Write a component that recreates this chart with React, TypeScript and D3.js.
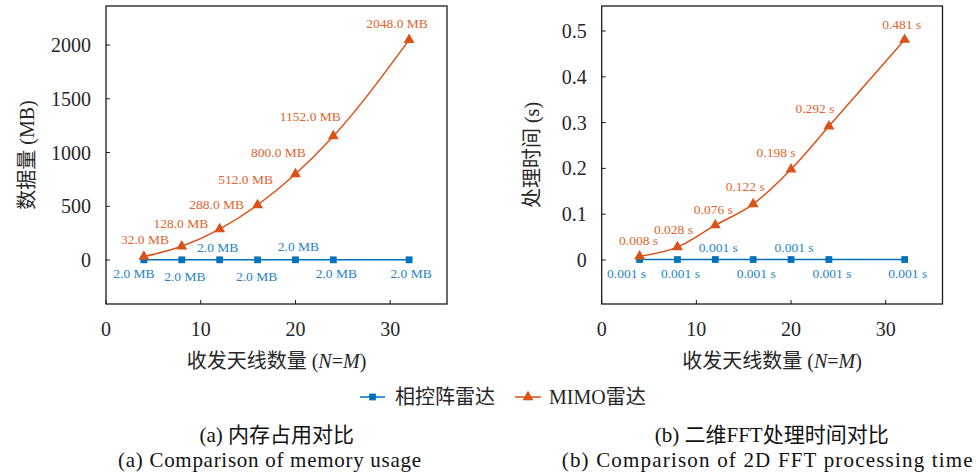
import React from 'react';
import * as d3 from 'd3';

// ---- data ----
const antennaCounts = [4, 8, 12, 16, 20, 24, 32];
const phasedMemoryMB = [2.0, 2.0, 2.0, 2.0, 2.0, 2.0, 2.0];
const mimoMemoryMB = [32.0, 128.0, 288.0, 512.0, 800.0, 1152.0, 2048.0];
const phasedTimeS = [0.001, 0.001, 0.001, 0.001, 0.001, 0.001, 0.001];
const mimoTimeS = [0.008, 0.028, 0.076, 0.122, 0.198, 0.292, 0.481];
const xTicks = [0, 10, 20, 30];
const memoryTicks = [0, 500, 1000, 1500, 2000];
const timeTicks = [0, 0.1, 0.2, 0.3, 0.4, 0.5];
const seriesNames = ['相控阵雷达', 'MIMO雷达'];

// ---- styling / layout ----
const BLUE = '#0072BD';
const ORANGE = '#D95319';
const BLUE_TEXT = '#2683C6';
const ORANGE_TEXT = '#E0642E';
const INK = '#262626';
const FONT = "'Liberation Serif', 'DejaVu Serif', serif, 'Noto Sans CJK SC'";

// label offsets (dx, dy) from each marker to the centre of its value label
const memMimoOffsets: [number, number][] = [[1, -17], [-1, -23], [-3, -25], [-12, -25], [-17, -22], [-23, -20], [-12, -16]];
const memPhasedOffsets: [number, number][] = [[-10, 14], [3, 17], [-2, -12], [-1, 17], [3, -13], [3, 14], [2, 14]];
const timeMimoOffsets: [number, number][] = [[-1, -16], [-4, -18], [-2, -16], [-8, -18], [-15, -17], [-14, -18], [-3, -15]];
const timePhasedOffsets: [number, number][] = [[-13, 14], [3, 14], [3, -12], [3, 14], [3, -12], [3, 14], [3, 14]];

type PanelProps = {
  x0: number;
  x1: number;
  y0: number;
  y1: number;
  yDomain: [number, number];
  yTicks: number[];
  phased: number[];
  mimo: number[];
  fmt: (v: number) => string;
  phasedOffsets: [number, number][];
  mimoOffsets: [number, number][];
  yTitle: string;
  yTitleX: number;
};

const triangle = d3.symbol().type(d3.symbolTriangle).size(52)() as string;
const square = d3.symbol().type(d3.symbolSquare).size(46)() as string;

function Panel(p: PanelProps) {
  const x = d3.scaleLinear().domain([0, 36]).range([p.x0, p.x1]);
  const y = d3.scaleLinear().domain(p.yDomain).range([p.y1, p.y0]);
  const line = d3
    .line<number>()
    .x((_, i) => x(antennaCounts[i]))
    .y((d) => y(d))
    .curve(d3.curveMonotoneX);
  const tickLen = 4;
  return (
    <g>
      {/* series */}
      <path d={line(p.phased) || ''} fill="none" stroke={BLUE} strokeWidth={1.5} />
      <path d={line(p.mimo) || ''} fill="none" stroke={ORANGE} strokeWidth={1.5} />
      {p.phased.map((v, i) => (
        <path key={'ps' + i} d={square} transform={`translate(${x(antennaCounts[i])},${y(v)})`} fill={BLUE} />
      ))}
      {p.mimo.map((v, i) => (
        <path key={'ms' + i} d={triangle} transform={`translate(${x(antennaCounts[i])},${y(v)})`} fill={ORANGE} />
      ))}
      {/* value labels */}
      {p.phased.map((v, i) => (
        <text
          key={'pl' + i}
          x={x(antennaCounts[i]) + p.phasedOffsets[i][0]}
          y={y(v) + p.phasedOffsets[i][1]}
          textAnchor="middle"
          dominantBaseline="central"
          fontSize={13.5}
          fill={BLUE_TEXT}
        >
          {p.fmt(v)}
        </text>
      ))}
      {p.mimo.map((v, i) => (
        <text
          key={'ml' + i}
          x={x(antennaCounts[i]) + p.mimoOffsets[i][0]}
          y={y(v) + p.mimoOffsets[i][1]}
          textAnchor="middle"
          dominantBaseline="central"
          fontSize={13.5}
          fill={ORANGE_TEXT}
        >
          {p.fmt(v)}
        </text>
      ))}
      {/* frame */}
      <rect x={p.x0} y={p.y0} width={p.x1 - p.x0} height={p.y1 - p.y0} fill="none" stroke="#1a1a1a" strokeWidth={1.3} />
      {/* y axis ticks */}
      {p.yTicks.map((t) => (
        <g key={'yt' + t}>
          <line x1={p.x0} x2={p.x0 + tickLen} y1={y(t)} y2={y(t)} stroke="#1a1a1a" strokeWidth={1} />
          <text x={p.x0 - 15} y={y(t)} textAnchor="end" dominantBaseline="central" fontSize={20} fill={INK}>
            {String(t)}
          </text>
        </g>
      ))}
      {/* x axis ticks */}
      {xTicks.map((t) => (
        <g key={'xt' + t}>
          <line x1={x(t)} x2={x(t)} y1={p.y1} y2={p.y1 - tickLen} stroke="#1a1a1a" strokeWidth={1} />
          <text x={x(t)} y={p.y1 + 25} textAnchor="middle" dominantBaseline="central" fontSize={20} fill={INK}>
            {String(t)}
          </text>
        </g>
      ))}
      {/* axis titles */}
      <text
        x={(p.x0 + p.x1) / 2}
        y={p.y1 + 57}
        textAnchor="middle"
        dominantBaseline="central"
        fontSize={20}
        fill={INK}
      >
        收发天线数量 (<tspan fontStyle="italic">N</tspan>=<tspan fontStyle="italic">M</tspan>)
      </text>
      <text
        transform={`translate(${p.yTitleX},${(p.y0 + p.y1) / 2}) rotate(-90)`}
        textAnchor="middle"
        dominantBaseline="central"
        fontSize={20}
        fill={INK}
      >
        {p.yTitle}
      </text>
    </g>
  );
}

export default function App() {
  const legendY = 397;
  return (
    <svg
      width={976}
      height={475}
      viewBox="0 0 976 475"
      fontFamily={FONT}
      style={{ position: 'absolute', left: 0, top: 0, background: '#fff' }}
    >
      <rect width={976} height={475} fill="#fff" />
      <Panel
        x0={106}
        x1={447}
        y0={6}
        y1={304}
        yDomain={[-409, 2363]}
        yTicks={memoryTicks}
        phased={phasedMemoryMB}
        mimo={mimoMemoryMB}
        fmt={(v) => `${v.toFixed(1)} MB`}
        phasedOffsets={memPhasedOffsets}
        mimoOffsets={memMimoOffsets}
        yTitle="数据量 (MB)"
        yTitleX={27}
      />
      <Panel
        x0={601.7}
        x1={942.5}
        y0={6}
        y1={304}
        yDomain={[-0.0961, 0.5546]}
        yTicks={timeTicks}
        phased={phasedTimeS}
        mimo={mimoTimeS}
        fmt={(v) => `${v.toFixed(3)} s`}
        phasedOffsets={timePhasedOffsets}
        mimoOffsets={timeMimoOffsets}
        yTitle="处理时间 (s)"
        yTitleX={532}
      />
      {/* legend */}
      <g>
        <line x1={360} x2={385} y1={legendY} y2={legendY} stroke={BLUE} strokeWidth={1.5} />
        <path d={square} transform={`translate(372.5,${legendY})`} fill={BLUE} />
        <text x={395} y={legendY} dominantBaseline="central" fontSize={20} fill={INK}>
          {seriesNames[0]}
        </text>
        <line x1={515} x2={541} y1={legendY} y2={legendY} stroke={ORANGE} strokeWidth={1.5} />
        <path d={triangle} transform={`translate(528,${legendY})`} fill={ORANGE} />
        <text x={549} y={legendY} dominantBaseline="central" fontSize={20} fill={INK}>
          {seriesNames[1]}
        </text>
      </g>
      {/* captions */}
      <text x={276.7} y={435} textAnchor="middle" dominantBaseline="central" fontSize={21} fill="#111">
        (a) 内存占用对比
      </text>
      <text x={118} y={460} dominantBaseline="central" fontSize={21} fill="#111" textLength={303} lengthAdjust="spacing">
        (a) Comparison of memory usage
      </text>
      <text x={771.7} y={435} textAnchor="middle" dominantBaseline="central" fontSize={21} fill="#111">
        (b) 二维FFT处理时间对比
      </text>
      <text x={561.7} y={460} dominantBaseline="central" fontSize={21} fill="#111" textLength={411} lengthAdjust="spacing">
        (b) Comparison of 2D FFT processing time
      </text>
    </svg>
  );
}
